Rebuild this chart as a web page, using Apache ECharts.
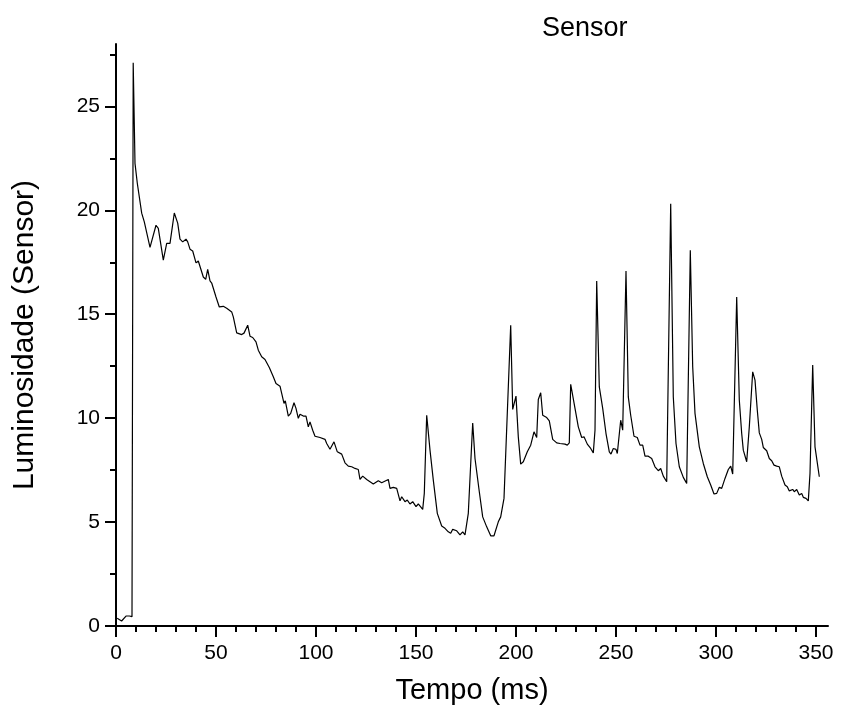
<!DOCTYPE html>
<html>
<head>
<meta charset="utf-8">
<script src="https://cdn.jsdelivr.net/npm/echarts@6/dist/echarts.min.js"></script>
<style>
  html, body { margin: 0; padding: 0; background: #fff; }
  #myChart { width: 841px; height: 718px; }
</style>
</head>
<body>
<div id="myChart"></div>
<script>
// tempo (ms) e luminosidade
const tempo = [
  0.6, 2.8, 5, 5.8, 6.7, 7.6, 8.0, 8.6, 9.5, 10.65, 12.85, 14.15, 17, 20, 21.15, 23.65, 25.35, 26.15, 27,
  29.15, 30.85, 32, 33.35, 35, 35.85, 37, 38.35, 40, 41.15, 42, 43.65, 44.85, 45.85, 47, 47.85, 50,
  51.65, 53.65, 54.5, 55.35, 57.85, 58.65, 60.35, 62.85, 64, 65.85, 67, 68.35, 70, 71.15, 72.85, 74.5,
  76.65, 78.65, 80, 82, 82.85, 84, 84.65, 86.15, 87.35, 89, 90, 91.15, 92, 93.65, 95, 96.15, 97, 98.35,
  99.5, 102, 104.5, 105.35, 107, 109, 110.65, 112.85, 114.5, 116.15, 117.85, 119.5, 121.15, 122, 123.35,
  125.35, 128.65, 131.15, 132.85, 136.15, 137, 138.65, 140.35, 142, 142.85, 144.5, 145.65, 147, 148.35,
  150, 151.15, 153.35, 154.15, 155.35, 157, 158.65, 160.65, 162.85, 164.5, 166.15, 167.35, 168.35,
  170.35, 172, 173.35, 174.5, 175.35, 176.15, 177, 178.35, 179.5, 181.65, 183.35, 185.35, 187.35, 189,
  191.15, 192.35, 194, 197.35, 198.35, 200, 201.15, 202.35, 203.65, 205.65, 207.35, 209, 210.35, 211.15,
  212.35, 213.35, 215.35, 216.65, 218.35, 220.35, 222, 224.5, 225.65, 226.65, 227.35, 228.35, 229.5,
  231.15, 232.85, 234, 235.65, 237.35, 238.65, 239.5, 240.35, 241.65, 243.35, 245, 246.65, 247.5, 248.65,
  250, 250.65, 252.35, 253.35, 255, 256.15, 257.35, 259, 260.65, 262, 263.35, 264.5, 266.15, 267.85,
  269.5, 271.15, 272.35, 273.65, 275.35, 277.35, 278.65, 280, 281.65, 283.65, 285.35, 287.15, 288.35,
  289.5, 291.65, 293.65, 295.65, 297.35, 299, 300.35, 301.65, 302.85, 304.5, 306.15, 307.35, 308.35,
  310.35, 311.65, 312.85, 313.65, 315.35, 316.65, 318.35, 319.5, 320.65, 321.65, 322.85, 323.65, 325.35,
  326.65, 327.85, 329, 330.35, 331.65, 332.85, 334.5, 335.65, 336.65, 338.35, 339.15, 340.35, 341.65,
  342.85, 343.65, 345, 346.15, 347, 348.35, 349.5, 351.65
];
const luminosidade = [
  0.37, 0.24, 0.48, 0.4, 0.48, 0.4, 0.45, 27.1, 22.26, 21.3, 19.86, 19.44, 18.22, 19.28, 19.13, 17.6, 18.41, 18.48, 18.41,
  19.87, 19.38, 18.61, 18.48, 18.61, 18.48, 18.13, 18.04, 17.47, 17.56, 17.64, 16.79, 16.68, 17.16, 16.6, 16.5, 15.83,
  15.35, 15.38, 15.32, 15.29, 15.11, 14.87, 14.1, 14.02, 14.09, 14.47, 13.94, 13.88, 13.67, 13.27, 12.95, 12.82,
  12.44, 11.99, 11.67, 11.54, 11.19, 10.71, 10.83, 10.1, 10.23, 10.74, 10.47, 9.99, 10.19, 10.1, 10.1, 9.58, 9.82, 9.42,
  9.13, 9.07, 8.98, 8.78, 8.5, 8.86, 8.38, 8.27, 7.85, 7.69, 7.66, 7.58, 7.53, 7.05, 7.21,
  7.05, 6.83, 6.99, 6.89, 7.05, 6.62, 6.67, 6.62, 6.02, 6.22, 5.98, 6.06, 5.87, 5.98,
  5.74, 5.87, 5.61, 6.38, 10.14, 8.46, 7.02, 5.42, 4.81, 4.7, 4.53, 4.46, 4.65,
  4.58, 4.38, 4.53, 4.38, 4.42, 5.42, 5.42, 9.77, 8.06, 6.46, 5.25, 4.77, 4.34, 4.34,
  5.01, 5.25, 6.14, 14.47, 10.42, 11.06, 9.1, 7.79, 7.9, 8.38, 8.7, 9.34, 9.07, 10.9,
  11.22, 10.14, 10.03, 9.87, 8.98, 8.81, 8.78, 8.75, 8.7, 8.81, 11.63, 11.63, 10.47,
  9.58, 9.07, 9.1, 8.75, 8.54, 8.33, 9.42, 16.6, 11.5, 10.47, 9.26, 8.38, 8.27, 8.54,
  8.5, 8.3, 9.9, 9.42, 17.08, 11.02, 10.14, 9.13, 9.07, 8.7, 8.7, 8.17, 8.17, 8.06,
  7.66, 7.47, 7.58, 7.21, 6.94, 20.32, 11.02, 8.78, 7.66, 7.15, 6.86, 18.08, 12.47,
  10.23, 8.62, 7.82, 7.18, 6.78, 6.35, 6.38, 6.67, 6.62, 7.1, 7.53, 7.69, 7.31,
  15.83, 10.87, 9.26, 8.46, 7.9, 9.58, 12.23, 11.83, 10.38, 9.29, 8.98, 8.59, 8.43,
  8.06, 7.95, 7.74, 7.69, 7.66, 7.21, 6.78, 6.7, 6.5, 6.57, 6.46, 6.57, 6.3,
  6.38, 6.19, 6.14, 6.02, 7.34, 12.55, 8.62, 7.18
];
const xMajorTicks = [0, 50, 100, 150, 200, 250, 300, 350];
const xMinorTicks = [10, 20, 30, 40, 60, 70, 80, 90, 110, 120, 130, 140, 160, 170, 180, 190,
  210, 220, 230, 240, 260, 270, 280, 290, 310, 320, 330, 340];
const yMajorTicks = [0, 5, 10, 15, 20, 25];
const yMinorTicks = [2.5, 7.5, 12.5, 17.5, 22.5, 27.5];

const font = '"Liberation Sans", Arial, sans-serif';
let myChart = echarts.init(document.getElementById('myChart'));
let pontos = tempo.map((t, i) => [t, luminosidade[i]]);

let eixoLinha = { show: true, onZero: false, lineStyle: { color: '#000', width: 2 } };

let option = {
  animation: false,
  title: {
    text: 'Sensor',
    left: 537,
    top: 10,
    textStyle: { fontFamily: font, fontSize: 27, fontWeight: 'normal', color: '#000' }
  },
  grid: { left: 116, right: 13, top: 44, bottom: 92, containLabel: false },
  xAxis: [{
    type: 'value',
    min: 0,
    max: 356,
    name: 'Tempo (ms)',
    nameLocation: 'middle',
    nameGap: 50,
    nameTextStyle: { fontFamily: font, fontSize: 29, color: '#000' },
    axisLine: eixoLinha,
    axisTick: { show: true, inside: false, length: 11, customValues: xMajorTicks, lineStyle: { color: '#000', width: 2 } },
    axisLabel: { customValues: xMajorTicks, margin: 17, fontFamily: font, fontSize: 21, color: '#000' },
    splitLine: { show: false }
  }, {
    type: 'value',
    min: 0,
    max: 356,
    position: 'bottom',
    axisLine: { show: false },
    axisTick: { show: true, inside: false, length: 6, customValues: xMinorTicks, lineStyle: { color: '#000', width: 2 } },
    axisLabel: { show: false },
    splitLine: { show: false }
  }],
  yAxis: [{
    type: 'value',
    min: 0,
    max: 28,
    name: 'Luminosidade (Sensor)',
    nameLocation: 'middle',
    nameGap: 76,
    nameTextStyle: { fontFamily: font, fontSize: 30, color: '#000' },
    axisLine: eixoLinha,
    axisTick: { show: true, inside: false, length: 11, customValues: yMajorTicks, lineStyle: { color: '#000', width: 2 } },
    axisLabel: { customValues: yMajorTicks, margin: 16, fontFamily: font, fontSize: 21, color: '#000' },
    splitLine: { show: false }
  }, {
    type: 'value',
    min: 0,
    max: 28,
    position: 'left',
    axisLine: { show: false },
    axisTick: { show: true, inside: false, length: 6, customValues: yMinorTicks, lineStyle: { color: '#000', width: 2 } },
    axisLabel: { show: false },
    splitLine: { show: false }
  }],
  series: [{
    name: 'Sensor',
    type: 'line',
    xAxisIndex: 0,
    yAxisIndex: 0,
    data: pontos,
    showSymbol: false,
    symbol: 'none',
    lineStyle: { color: '#000', width: 1.2 }
  }]
};
myChart.setOption(option);
</script>
</body>
</html>
